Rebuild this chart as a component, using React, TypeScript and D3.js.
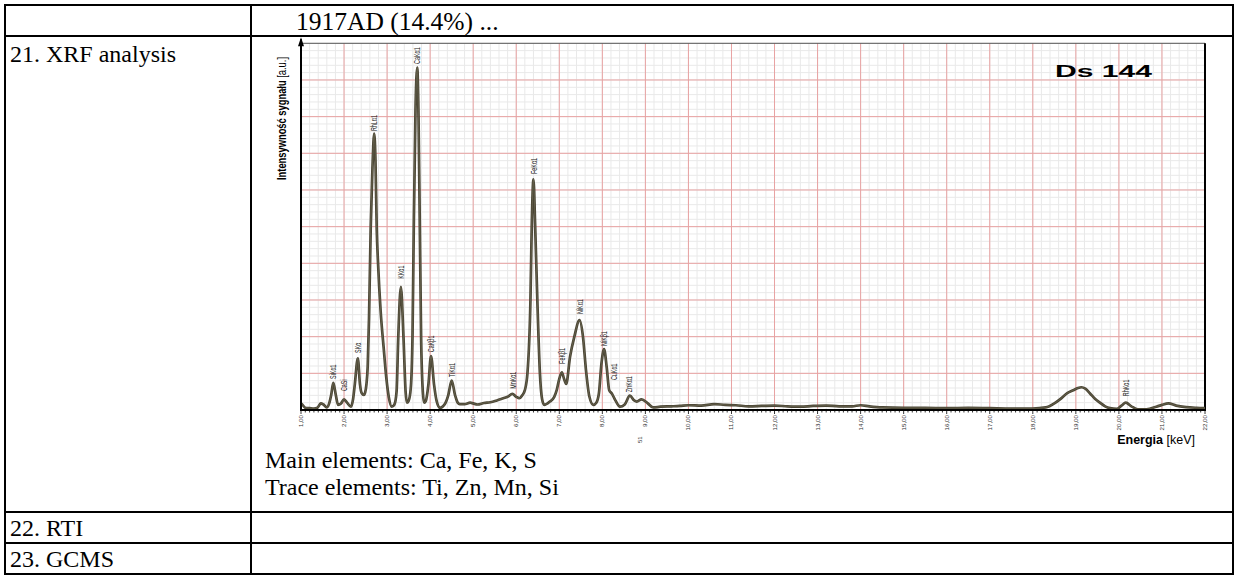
import * as d3 from 'd3';

// table texts
const headerText = '1917AD (14.4%) ...';
const rowLabels = ['21. XRF analysis', '22. RTI', '23. GCMS'];
const noteLines = ['Main elements: Ca, Fe, K, S', 'Trace elements: Ti, Zn, Mn, Si'];
const sampleName = 'Ds 144';

// XRF spectrum (energy in keV, intensity in a.u., 10 per major grid line)
const spectrumKeV = [
  1.0, 1.05, 1.1, 1.2, 1.3, 1.38, 1.46, 1.52, 1.6, 1.66, 1.7, 1.75, 1.81, 1.86, 1.93, 2.0, 2.07, 2.16,
  2.21, 2.25, 2.32, 2.37, 2.41, 2.46, 2.49, 2.52, 2.55, 2.58, 2.62, 2.66, 2.7, 2.73, 2.76, 2.79, 2.85,
  2.92, 2.98, 3.04, 3.11, 3.17, 3.22, 3.26, 3.32, 3.38, 3.43, 3.46, 3.5, 3.55, 3.59, 3.62, 3.66, 3.7,
  3.73, 3.76, 3.79, 3.83, 3.86, 3.9, 3.96, 4.02, 4.09, 4.15, 4.23, 4.3, 4.36, 4.42, 4.5, 4.58, 4.64,
  4.69, 4.8, 4.93, 5.0, 5.1, 5.25, 5.4, 5.55, 5.7, 5.8, 5.91, 6.0, 6.07, 6.14, 6.2, 6.26, 6.33, 6.36,
  6.4, 6.44, 6.49, 6.55, 6.6, 6.65, 6.78, 6.88, 6.94, 7.0, 7.06, 7.11, 7.16, 7.25, 7.35, 7.47, 7.55,
  7.62, 7.7, 7.79, 7.86, 7.92, 7.98, 8.04, 8.1, 8.16, 8.22, 8.3, 8.41, 8.52, 8.64, 8.74, 8.8, 8.91,
  9.05, 9.18, 9.35, 9.6, 9.8, 10.0, 10.3, 10.6, 10.85, 11.1, 11.4, 11.7, 12.0, 12.3, 12.6, 12.9, 13.2,
  13.5, 13.8, 14.0, 14.2, 14.5, 15.0, 15.5, 16.0, 16.5, 17.0, 17.5, 18.0, 18.3, 18.5, 18.63, 18.8,
  18.94, 19.05, 19.13, 19.22, 19.33, 19.45, 19.56, 19.68, 19.79, 19.95, 20.06, 20.16, 20.29, 20.44,
  20.64, 20.87, 21.0, 21.15, 21.33, 21.56, 21.8, 22.0,
];
const spectrumCounts = [
  1.8, 1.2, 0.6, 0.5, 0.4, 0.6, 1.8, 1.5, 0.7, 2.0, 4.0, 7.4, 4.0, 1.4, 1.8, 2.9, 2.0, 0.9,
  3.0, 7.0, 14.1, 7.0, 4.6, 4.1, 4.8, 7.0, 12, 25, 50, 66, 75.4, 68, 49, 40, 27,
  17, 9, 3.5, 0.9, 1.5, 5, 20, 33.6, 20, 5, 2.0, 2.5, 6, 20, 50, 82, 93.4,
  80, 50, 20, 5, 2.0, 2.5, 7, 14.7, 7, 2.5, 0.6, 1.0, 2.0, 4, 8.0, 4, 2.0,
  1.6, 1.6, 2.0, 1.8, 1.5, 1.9, 2.1, 2.6, 3.2, 3.6, 4.4, 3.6, 3.2, 4.0, 5.4, 10, 30, 50,
  62.9, 50, 30, 10, 3, 1.4, 2.3, 3.5, 5.4, 8.5, 10.3, 8.5, 7.1, 14.5, 20, 24.5, 20,
  10.9, 3.6, 1.4, 2.0, 4.5, 12.7, 16.6, 11.8, 5.4, 4.5, 2.7, 0.9, 1.5, 3.9, 2.6, 2.3, 2.9,
  1.9, 0.7, 0.9, 1.0, 1.1, 1.3, 1.2, 1.6, 1.4, 1.3, 1.0, 1.1, 1.2, 1.0, 0.9, 1.1, 1.2,
  1.0, 1.0, 1.3, 1.0, 0.7, 0.6, 0.6, 0.5, 0.6, 0.5, 0.4, 0.4, 0.7, 1.8, 2.9, 4.6,
  5.4, 6.0, 6.2, 5.8, 4.5, 3.0, 2.0, 1.0, 0.5, 0.3, 1.2, 2.0, 1.0, 0.2,
  0.2, 0.9, 1.4, 1.8, 1.2, 0.8, 0.6, 0.5,
];

// peak annotations: name, energy, intensity where the label starts
const peakNames = ['SiKα1', 'CaSi', 'SKα', 'RhLα1', 'KKα1', 'CaKα1', 'CaKβ1', 'TiKα1', 'MnKα1', 'FeKα1', 'FeKβ1', 'NiKα1', 'NiKβ1', 'CuKα1', 'ZnKα1', 'RhKα1'];
const peakKeV = [1.75, 2.0, 2.32, 2.7, 3.32, 3.7, 4.02, 4.5, 5.91, 6.4, 7.06, 7.47, 8.04, 8.27, 8.62, 20.16];
const peakLabelAt = [8.2, 4.9, 15.3, 75.8, 35.5, 94.1, 15.5, 8.7, 5.5, 64.1, 12.3, 25.9, 17.2, 7.9, 4.6, 3.5];

const xTickValues = [1, 2, 3, 4, 5, 6, 7, 8, 9, 10, 11, 12, 13, 14, 15, 16, 17, 18, 19, 20, 21, 22];
const yMajorValues = [10, 20, 30, 40, 50, 60, 70, 80, 90];

const serif = '"Liberation Serif", "Times New Roman", serif';
const sans = '"Liberation Sans", Arial, sans-serif';

export default function App() {
  const width = 1234;
  const height = 576;
  const plot = { left: 301, right: 1205, top: 43.3, bottom: 410 };

  const x = d3.scaleLinear().domain([1, 22]).range([plot.left, plot.right]);
  const y = d3.scaleLinear().domain([0, 100]).range([plot.bottom, plot.top]);

  const points = spectrumKeV.map((k, i) => [k, spectrumCounts[i]] as [number, number]);
  const line = d3.line<[number, number]>()
    .x(d => x(d[0]))
    .y(d => y(d[1]))
    .curve(d3.curveMonotoneX);
  const pathD = line(points) ?? '';

  const minorX = x.ticks(105);
  const minorY = y.ticks(50);
  const axisTicks = x.ticks(210);
  const fmt = (v: number) => v.toFixed(2).replace('.', ',');

  // table geometry
  const tLeft = 5, tRight = 1233, tTop = 5, tBottom = 574, colX = 251;
  const rowLines = [36, 512, 543];

  return (
    <svg width={width} height={height} style={{ position: 'absolute', left: 0, top: 0, background: '#fff' }}>
      <rect x={0} y={0} width={width} height={height} fill="#fff" />

      {/* table */}
      <g stroke="#000" strokeWidth={2} fill="none">
        <rect x={tLeft} y={tTop} width={tRight - tLeft} height={tBottom - tTop} />
        <line x1={colX} x2={colX} y1={tTop} y2={tBottom} />
        {rowLines.map(r => <line key={r} x1={tLeft} x2={tRight} y1={r} y2={r} />)}
      </g>
      <g fontFamily={serif} fontSize={24} fill="#000">
        <text x={296} y={30} fontSize={25.5}>{headerText}</text>
        <text x={10} y={62}>{rowLabels[0]}</text>
        <text x={10} y={536}>{rowLabels[1]}</text>
        <text x={10} y={567}>{rowLabels[2]}</text>
        {noteLines.map((t, i) => <text key={t} x={265} y={468 + i * 27}>{t}</text>)}
      </g>

      {/* chart grid */}
      <g stroke="#e9e9e9" strokeWidth={1}>
        {minorX.map(v => <line key={'mx' + v} x1={x(v)} x2={x(v)} y1={plot.top} y2={plot.bottom} />)}
        {minorY.map(v => <line key={'my' + v} x1={plot.left} x2={plot.right} y1={y(v)} y2={y(v)} />)}
      </g>
      <g stroke="#e8a2a2" strokeWidth={1}>
        {xTickValues.slice(1, -1).map(v => <line key={'Mx' + v} x1={x(v)} x2={x(v)} y1={plot.top} y2={plot.bottom} />)}
        {yMajorValues.map(v => <line key={'My' + v} x1={plot.left} x2={plot.right} y1={y(v)} y2={y(v)} />)}
      </g>

      {/* frame */}
      <line x1={plot.left} x2={plot.right} y1={plot.top} y2={plot.top} stroke="#555" strokeWidth={1} />
      <line x1={plot.right} x2={plot.right} y1={plot.top} y2={plot.bottom} stroke="#000" strokeWidth={2} />

      {/* spectrum */}
      <path d={pathD} fill="none" stroke="#4a4534" strokeWidth={2.7} strokeLinejoin="round" />
      <path d={pathD} fill="none" stroke="#6f6a55" strokeWidth={0.7} strokeLinejoin="round" />

      {/* axes */}
      <line x1={plot.left} x2={plot.left} y1={plot.bottom + 1} y2={plot.top - 4} stroke="#000" strokeWidth={2} />
      <path d={`M${plot.left - 3},${plot.top + 3} L${plot.left},${plot.top - 6} L${plot.left + 3},${plot.top + 3} Z`} fill="#000" />
      <line x1={plot.left - 1} x2={plot.right + 1} y1={plot.bottom} y2={plot.bottom} stroke="#000" strokeWidth={2} />
      <g stroke="#000" strokeWidth={0.8}>
        {axisTicks.map(v => (
          <line key={'t' + v} x1={x(v)} x2={x(v)} y1={plot.bottom} y2={plot.bottom + (Math.abs(v - Math.round(v)) < 1e-6 ? 4 : 2.5)} />
        ))}
      </g>
      <g fontFamily={sans} fontSize={6.2} fill="#333">
        {xTickValues.map(v => (
          <text key={'l' + v} transform={`translate(${x(v) + 2},${plot.bottom + 5}) rotate(-90)`} textAnchor="end">{fmt(v)}</text>
        ))}
      </g>

      {/* peak labels */}
      <g fontFamily={sans} fontSize={9} fill="#222">
        {peakNames.map((n, i) => (
          <text key={n + i} transform={`translate(${x(peakKeV[i]) + 3.2},${y(peakLabelAt[i]) - 1}) rotate(-90) scale(0.6,1)`}>{n}</text>
        ))}
      </g>

      {/* axis titles */}
      <text transform="translate(286,180) rotate(-90)" fontFamily={sans} fontSize={12} fill="#000" textLength={123} lengthAdjust="spacingAndGlyphs">
        <tspan fontWeight="bold">Intensywność sygnału</tspan>
        <tspan> [a.u.]</tspan>
      </text>
      <text x={1195} y={444} textAnchor="end" fontFamily={sans} fontSize={12.5} fill="#000">
        <tspan fontWeight="bold">Energia</tspan>
        <tspan> [keV]</tspan>
      </text>
      <text transform={`translate(${642},${443}) rotate(-90)`} fontFamily={sans} fontSize={6} fill="#333">51</text>

      <text x={1055} y={77} fontFamily={sans} fontSize={17} fontWeight={900} fill="#000" textLength={97} lengthAdjust="spacingAndGlyphs">{sampleName}</text>
    </svg>
  );
}
